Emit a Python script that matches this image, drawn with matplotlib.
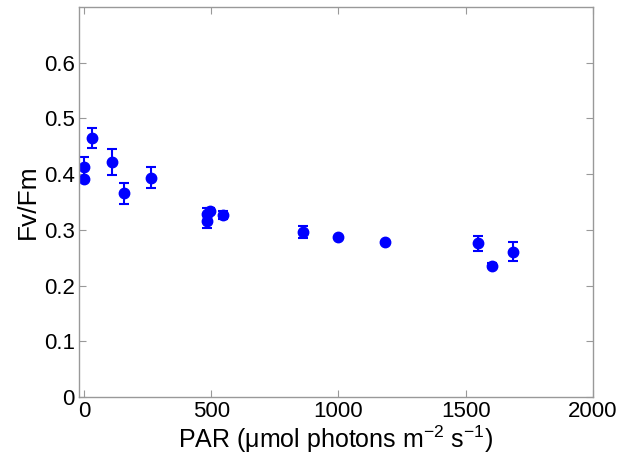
import matplotlib
matplotlib.use("Agg")
import matplotlib.pyplot as plt

plt.rcParams['font.family'] = ['Liberation Sans', 'DejaVu Sans']
plt.rcParams['mathtext.fontset'] = 'custom'
plt.rcParams['mathtext.rm'] = 'Liberation Sans'
plt.rcParams['mathtext.it'] = 'Liberation Sans'
plt.rcParams['mathtext.bf'] = 'Liberation Sans:bold'

par = [0, 0, 30, 111, 156, 262, 485, 495, 483, 547, 859, 1000, 1182, 1549, 1603, 1686]
fvfm = [0.413, 0.391, 0.465, 0.422, 0.366, 0.394, 0.328, 0.334, 0.316, 0.327, 0.296, 0.287, 0.279, 0.276, 0.236, 0.261]
err = [0.018, 0.0, 0.018, 0.023, 0.019, 0.019, 0.012, 0.005, 0.012, 0.007, 0.011, 0.0, 0.0, 0.013, 0.004, 0.017]

xticks = [0, 500, 1000, 1500, 2000]
yticks = [0, 0.1, 0.2, 0.3, 0.4, 0.5, 0.6]

fig = plt.figure(figsize=(6.19, 4.65), dpi=100)
ax = fig.add_axes([0.1276, 0.146, 0.830, 0.839])
ax.errorbar(par, fvfm, yerr=err, fmt='o', color='#0000ff', ecolor='#0000ff',
            markersize=7.5, capsize=3.5, elinewidth=1.5, capthick=1.5)
ax.set_xlim(-20, 2000)
ax.set_ylim(0, 0.7)
ax.set_xticks(xticks)
ax.set_xticklabels([str(t) for t in xticks])
ax.set_yticks(yticks)
ax.set_yticklabels(['0', '0.1', '0.2', '0.3', '0.4', '0.5', '0.6'])
ax.tick_params(direction='in', length=5, width=0.8, color='#999999',
               top=True, right=True, labelsize=16, pad=3)
for s in ax.spines.values():
    s.set_color('#999999')
    s.set_linewidth(1.0)
ax.set_xlabel('PAR (μmol photons m$^{-2}$ s$^{-1}$)', fontsize=18, labelpad=1)
ax.set_ylabel('Fv/Fm', fontsize=19, labelpad=3)
fig.savefig('out.png', dpi=100)
